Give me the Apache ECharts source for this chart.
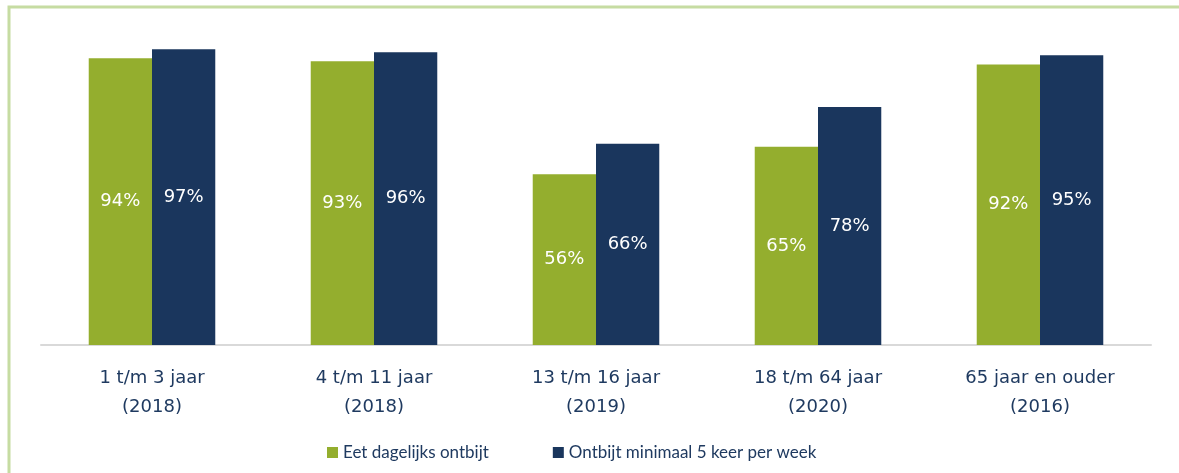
<!DOCTYPE html>
<html lang="nl">
<head>
    <meta charset="UTF-8">
    <title>Ontbijt per leeftijdsgroep</title>
    <script src="https://cdn.jsdelivr.net/npm/echarts@6/dist/echarts.min.js"></script>
    <style>
        html, body { margin: 0; padding: 0; background: #fff; }
        #chart { width: 1179px; height: 473px; }
    </style>
</head>
<body>
<div id="chart"></div>
<script type="text/javascript">
    // data
    var categories = ['1 t/m 3 jaar\n(2018)', '4 t/m 11 jaar\n(2018)', '13 t/m 16 jaar\n(2019)', '18 t/m 64 jaar\n(2020)', '65 jaar en ouder\n(2016)'];
    var dagelijks = [94, 93, 56, 65, 92];
    var minimaal5 = [97, 96, 66, 78, 95];
    var seriesNames = ['Eet dagelijks ontbijt', 'Ontbijt minimaal 5 keer per week'];

    var textColor = '#1f3a60';

    var myChart = echarts.init(document.getElementById('chart'));
    var labelCfg = {
        show: true,
        position: 'inside',
        color: '#fff',
        fontFamily: 'DejaVu Sans',
        fontSize: 18,
        formatter: '{c}%'
    };
    var option = {
        animation: false,
        // light green frame, only left and top visible
        graphic: [{
            type: 'polyline',
            shape: { points: [[9, 480], [9, 7], [1190, 7]] },
            style: { fill: 'none', stroke: '#c6dca2', lineWidth: 3 },
            silent: true
        }],
        grid: { left: 41, right: 28, top: 40, bottom: 128 },
        legend: {
            bottom: 7,
            left: 322,
            itemWidth: 11,
            itemHeight: 11,
            itemGap: 64,
            icon: 'rect',
            textStyle: { fontFamily: 'Lato', fontSize: 17, color: textColor },
            data: seriesNames
        },
        xAxis: {
            type: 'category',
            data: categories,
            axisLine: { lineStyle: { color: '#d9d9d9', width: 2 } },
            axisTick: { show: false },
            axisLabel: {
                margin: 19,
                fontFamily: 'DejaVu Sans',
                fontSize: 18,
                lineHeight: 29,
                color: textColor
            }
        },
        yAxis: {
            type: 'value',
            min: 0,
            max: 100,
            show: false
        },
        series: [
            {
                name: seriesNames[0],
                type: 'bar',
                data: dagelijks,
                barGap: '0%',
                barCategoryGap: '43%',
                itemStyle: { color: '#94ae2e' },
                label: labelCfg
            },
            {
                name: seriesNames[1],
                type: 'bar',
                data: minimaal5,
                itemStyle: { color: '#1a365d' },
                label: labelCfg
            }
        ]
    };
    myChart.setOption(option);
</script>
</body>
</html>
